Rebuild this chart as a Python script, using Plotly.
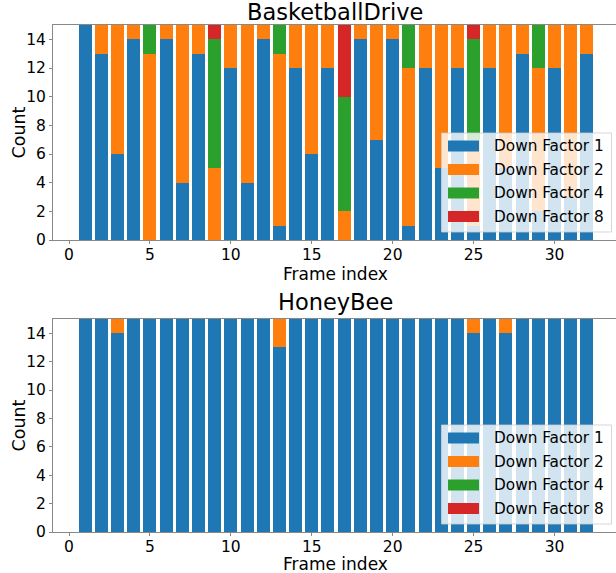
import plotly.graph_objects as go

# ---------------- data ----------------
frames = list(range(1, 33))
series_names = ["Down Factor 1", "Down Factor 2", "Down Factor 4", "Down Factor 8"]
colors = ["#1f77b4", "#ff7f0e", "#2ca02c", "#d62728"]

bd_df1 = [15, 13, 6, 14, 0, 14, 4, 13, 0, 12, 4, 14, 1, 12, 6, 12, 0, 14, 7, 14, 1, 12, 5, 12, 1, 12, 5, 13, 2, 12, 3, 13]
bd_df2 = [0, 2, 9, 1, 13, 1, 11, 2, 5, 3, 11, 1, 12, 3, 9, 3, 2, 1, 8, 1, 11, 3, 10, 3, 6, 3, 10, 2, 10, 3, 12, 2]
bd_df4 = [0, 0, 0, 0, 2, 0, 0, 0, 9, 0, 0, 0, 2, 0, 0, 0, 8, 0, 0, 0, 3, 0, 0, 0, 7, 0, 0, 0, 3, 0, 0, 0]
bd_df8 = [0, 0, 0, 0, 0, 0, 0, 0, 1, 0, 0, 0, 0, 0, 0, 0, 5, 0, 0, 0, 0, 0, 0, 0, 1, 0, 0, 0, 0, 0, 0, 0]

hb_df1 = [15, 15, 14, 15, 15, 15, 15, 15, 15, 15, 15, 15, 13, 15, 15, 15, 15, 15, 15, 15, 15, 15, 15, 15, 14, 15, 14, 15, 15, 15, 15, 15]
hb_df2 = [0, 0, 1, 0, 0, 0, 0, 0, 0, 0, 0, 0, 2, 0, 0, 0, 0, 0, 0, 0, 0, 0, 0, 0, 1, 0, 1, 0, 0, 0, 0, 0]
hb_df4 = [0] * 32
hb_df8 = [0] * 32

titles = ["BasketballDrive", "HoneyBee"]
x_ticks = [0, 5, 10, 15, 20, 25, 30]
y_ticks = [0, 2, 4, 6, 8, 10, 12, 14]

# ---------------- layout helpers (pixels) ----------------
W, H = 616, 573
ML, MR, MT, MB = 53, 0, 25, 41
PW, PH = W - ML - MR, H - MT - MB


def px(x):
    return (x - ML) / PW


def py(y):
    return (H - MB - y) / PH


FONT = "DejaVu Sans"
AX = "#888888"

fig = go.Figure()

panels = [
    ([bd_df1, bd_df2, bd_df4, bd_df8], "x", "y"),
    ([hb_df1, hb_df2, hb_df4, hb_df8], "x2", "y2"),
]
for vals, xa, ya in panels:
    for name, col, v in zip(series_names, colors, vals):
        fig.add_trace(go.Bar(x=frames, y=v, name=name, marker_color=col,
                             marker_line_width=0, width=0.8, xaxis=xa, yaxis=ya,
                             showlegend=False))

axis_common = dict(showline=True, linecolor=AX, linewidth=1, mirror=True,
                   ticks="outside", ticklen=3, tickcolor=AX, showgrid=False,
                   zeroline=False, tickfont=dict(family=FONT, size=15.5, color="black"))

fig.update_layout(
    width=W, height=H,
    margin=dict(l=ML, r=MR, t=MT, b=MB),
    paper_bgcolor="white", plot_bgcolor="white",
    barmode="stack", bargap=0,
    showlegend=False,
    xaxis=dict(domain=[0, 1], anchor="y", range=[-0.99, 33.8], tickvals=x_ticks,
               ticklabelstandoff=-3, **axis_common),
    yaxis=dict(domain=[py(240), 1], anchor="x", range=[0, 15], tickvals=y_ticks, **axis_common),
    xaxis2=dict(domain=[0, 1], anchor="y2", range=[-0.99, 33.8], tickvals=x_ticks,
                ticklabelstandoff=-3, **axis_common),
    yaxis2=dict(domain=[0, py(319)], anchor="x2", range=[0, 15], tickvals=y_ticks, **axis_common),
)

annotations = []
shapes = []
panel_top = [25, 319]
panel_bot = [240, 532]
title_y = [12, 302]
xlabel_y = [274, 564]
for i, title in enumerate(titles):
    top, bot = panel_top[i], panel_bot[i]
    annotations.append(dict(text=title, x=px(335), y=py(title_y[i]), xref="paper", yref="paper",
                            showarrow=False, font=dict(family=FONT, size=22.5, color="black"),
                            xanchor="center", yanchor="middle"))
    annotations.append(dict(text="Frame index", x=px(336), y=py(xlabel_y[i]), xref="paper", yref="paper",
                            showarrow=False, font=dict(family=FONT, size=17, color="black"),
                            xanchor="center", yanchor="middle", borderpad=0))
    annotations.append(dict(text="Count", x=px(18), y=py((top + bot) / 2), xref="paper", yref="paper",
                            showarrow=False, textangle=-90, font=dict(family=FONT, size=17.5, color="black"),
                            xanchor="center", yanchor="middle"))
    # legend box
    lb_top = bot - 107
    lb_bot = bot - 8
    shapes.append(dict(type="rect", xref="paper", yref="paper",
                       x0=px(441.5), x1=px(611.5), y0=py(lb_bot), y1=py(lb_top),
                       fillcolor="rgba(255,255,255,0.8)", line=dict(color="rgba(204,204,204,0.8)", width=1),
                       layer="above"))
    for k, (name, col) in enumerate(zip(series_names, colors)):
        cy = lb_top + 13 + k * 23.5
        shapes.append(dict(type="rect", xref="paper", yref="paper",
                           x0=px(448), x1=px(479), y0=py(cy + 5.5), y1=py(cy - 5.5),
                           fillcolor=col, line=dict(width=0), layer="above"))
        annotations.append(dict(text=name, x=px(492), y=py(cy), xref="paper", yref="paper",
                                showarrow=False, font=dict(family=FONT, size=15.3, color="black"),
                                xanchor="left", yanchor="middle"))

fig.update_layout(annotations=annotations, shapes=shapes)

fig.write_html("out.html",
               config={"displayModeBar": False},
               post_script="document.body.style.margin='0';document.body.style.overflow='hidden';")
